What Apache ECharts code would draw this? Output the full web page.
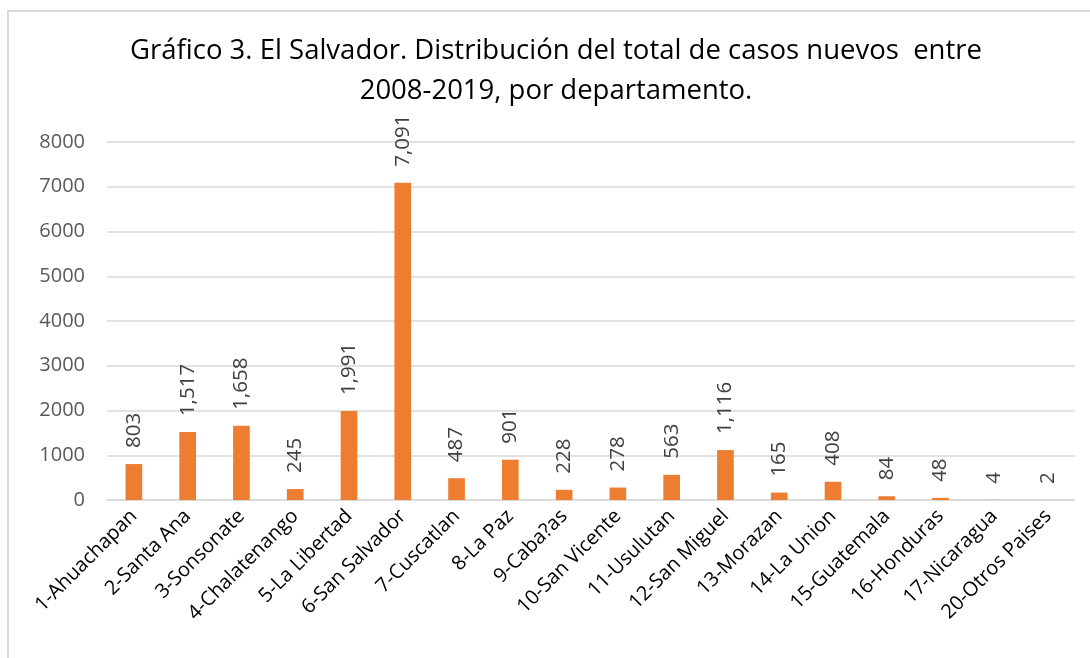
<!DOCTYPE html>
<html>
<head>
<meta charset="utf-8">
<script src="https://cdn.jsdelivr.net/npm/echarts@6/dist/echarts.min.js"></script>
<style>
  html, body { margin: 0; padding: 0; background: #fff; }
  #frame { position: absolute; left: 7px; top: 10px; width: 1100px; height: 660px; border: 2px solid #d9d9d9; box-sizing: border-box; }
  #chart { position: absolute; left: 0; top: 0; width: 1090px; height: 658px; }
</style>
</head>
<body>
<div id="frame"></div>
<div id="chart"></div>
<script>
const departments = ['1-Ahuachapan', '2-Santa Ana', '3-Sonsonate', '4-Chalatenango', '5-La Libertad',
  '6-San Salvador', '7-Cuscatlan', '8-La Paz', '9-Caba?as', '10-San Vicente', '11-Usulutan',
  '12-San Miguel', '13-Morazan', '14-La Union', '15-Guatemala', '16-Honduras', '17-Nicaragua',
  '20-Otros Paises'];
const newCases = [803, 1517, 1658, 245, 1991, 7091, 487, 901, 228, 278, 563, 1116, 165, 408, 84, 48, 4, 2];
const titleLines = ['Gráfico 3. El Salvador. Distribución del total de casos nuevos  entre',
  '2008-2019, por departamento.'];

const chart = echarts.init(document.getElementById('chart'));
const font = "'Open Sans', sans-serif";
const titleStyle = { fontFamily: font, fontSize: 27.5, fontWeight: 'normal', color: '#000' };

chart.setOption({
  animation: false,
  title: titleLines.map((t, i) => ({
    text: t,
    left: 556,
    textAlign: 'center',
    top: 37 + i * 40,
    padding: 0,
    textStyle: titleStyle
  })),
  grid: { left: 107, right: 15, top: 142, bottom: 158 },
  xAxis: {
    type: 'category',
    data: departments,
    axisLine: { lineStyle: { color: '#d9d9d9', width: 1.5 } },
    axisTick: { show: false },
    axisLabel: { rotate: 45, interval: 0, color: '#000', fontFamily: font, fontSize: 20, margin: 13 }
  },
  yAxis: {
    type: 'value',
    min: 0,
    max: 8000,
    interval: 1000,
    axisLine: { show: false },
    axisTick: { show: false },
    splitLine: { lineStyle: { color: '#d9d9d9', width: 1.5 } },
    axisLabel: { color: '#595959', fontFamily: font, fontSize: 20, margin: 22, formatter: v => String(v) }
  },
  series: [{
    type: 'bar',
    data: newCases,
    barWidth: '31%',
    itemStyle: { color: '#ED7D31' },
    label: {
      show: true,
      position: 'top',
      rotate: 90,
      align: 'left',
      verticalAlign: 'middle',
      distance: 16,
      color: '#404040',
      fontFamily: font,
      fontSize: 20.5,
      formatter: p => p.value.toLocaleString('en-US')
    }
  }]
});
</script>
</body>
</html>
